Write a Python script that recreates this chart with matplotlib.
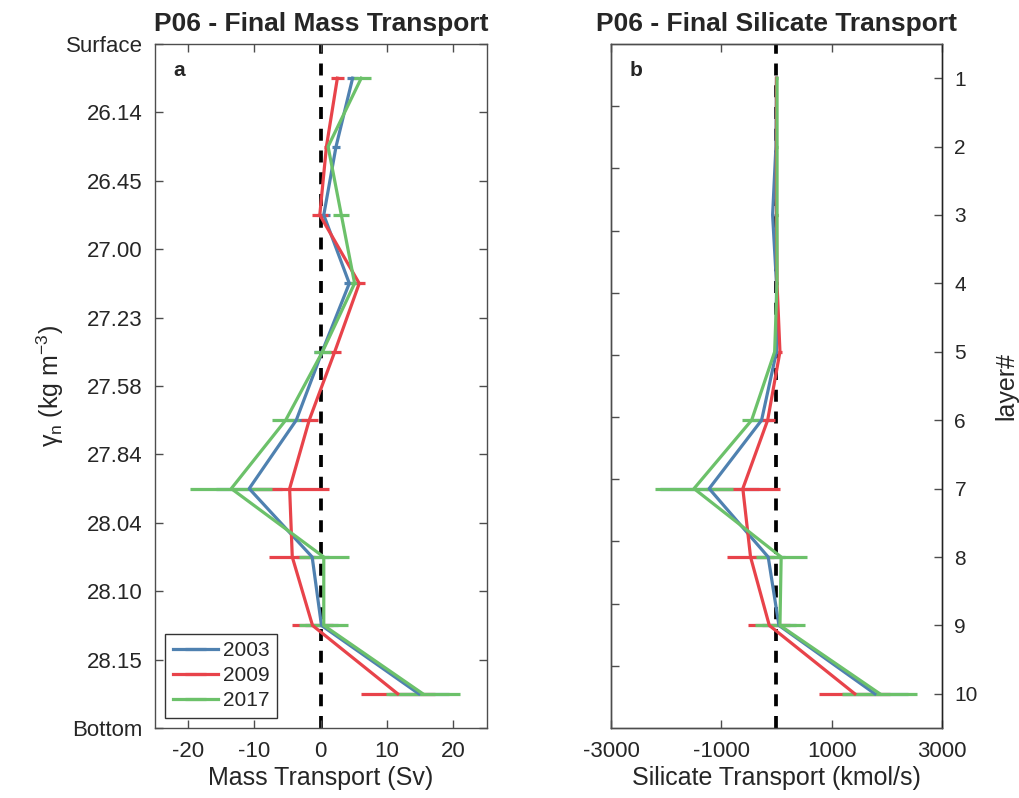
import matplotlib.pyplot as plt
import numpy as np

plt.rcParams['font.family'] = ['Liberation Sans', 'DejaVu Sans']
plt.rcParams['mathtext.fontset'] = 'custom'
plt.rcParams['mathtext.rm'] = 'Liberation Sans'
plt.rcParams['mathtext.it'] = 'Liberation Sans'
plt.rcParams['axes.unicode_minus'] = False

txt_col = '#262626'
box_col = '#4d4d4d'

layers = np.arange(1, 11)
years = ['2003', '2009', '2017']
colors = ['#4f81b0', '#e8434a', '#6cc16a']
density_labels = ['Surface', '26.14', '26.45', '27.00', '27.23', '27.58',
                  '27.84', '28.04', '28.10', '28.15', 'Bottom']

# mass transport (Sv) per layer
mass_2003 = [4.8, 2.3, 0.45, 4.3, 0.2, -3.7, -10.8, -1.3, 0.1, 14.8]
mass_2009 = [2.5, 0.85, -0.15, 5.8, 2.1, -1.75, -4.7, -4.3, -1.25, 11.6]
mass_2017 = [6.1, 1.1, 3.1, 5.1, 0.25, -5.3, -13.5, 0.45, 0.45, 15.4]
mass_err_2003 = [0.8, 0.6, 1.0, 0.8, 1.2, 1.6, 5.0, 2.5, 2.5, 4.5]
mass_err_2009 = [1.0, 0.3, 1.25, 0.8, 0.9, 1.3, 6.0, 3.5, 3.15, 5.6]
mass_err_2017 = [1.5, 0.2, 1.2, 0.7, 1.25, 2.0, 6.2, 3.75, 3.7, 5.6]

# silicate transport (kmol/s) per layer
sil_2003 = [0, -10, -70, 0, 0, -270, -1220, -150, 45, 1785]
sil_2009 = [0, 0, 0, 10, 63, -160, -610, -470, -130, 1420]
sil_2017 = [10, 10, 10, 10, -33, -450, -1495, 85, 63, 1875]
sil_err_2003 = [10, 10, 20, 20, 30, 200, 900, 300, 300, 600]
sil_err_2009 = [10, 10, 20, 20, 30, 135, 670, 430, 380, 645]
sil_err_2017 = [10, 10, 20, 20, 30, 180, 700, 465, 450, 680]

mass = [mass_2003, mass_2009, mass_2017]
mass_err = [mass_err_2003, mass_err_2009, mass_err_2017]
sil = [sil_2003, sil_2009, sil_2017]
sil_err = [sil_err_2003, sil_err_2009, sil_err_2017]

dash = (0, (3.2, 2.6))

fig = plt.figure(figsize=(10.2, 7.98), dpi=100)
ax1 = fig.add_axes([0.152, 0.0877, 0.325, 0.8572])
ax2 = fig.add_axes([0.599, 0.0877, 0.3245, 0.8572])
ax2r = ax2.twinx()


def style_box(ax):
    for s in ax.spines.values():
        s.set_color(box_col)
        s.set_linewidth(1.0)
    ax.tick_params(direction='in', length=6, width=1.0, color=box_col,
                   labelcolor=txt_col, labelsize=16)
    ax.tick_params(axis='x', pad=9)
    ax.tick_params(axis='y', pad=9)


# --- panel a
ax1.axvline(0, color='k', ls=dash, lw=2.7, zorder=1)
for vals, errs, c, yr in zip(mass, mass_err, colors, years):
    ax1.errorbar(vals, layers, xerr=errs, color=c, lw=2.3, elinewidth=2.3,
                 capsize=0, label=yr, zorder=2)
ax1.set_xlim(-25, 25)
ax1.set_ylim(10.5, 0.5)
ax1.set_xticks([-20, -10, 0, 10, 20])
ax1.set_yticks(np.arange(0.5, 11.0, 1.0))
ax1.set_yticklabels(density_labels)
style_box(ax1)
ax1.tick_params(top=True, right=True)
ax1.set_xlabel('Mass Transport (Sv)', fontsize=18, color=txt_col, labelpad=3)
ax1.set_ylabel(r'$\gamma_n$ (kg m$^{-3}$)', fontsize=18, color=txt_col, labelpad=0)
ax1.set_title('P06 - Final Mass Transport', fontsize=19, fontweight='bold',
              color=txt_col, pad=9)
ax1.text(0.055, 0.975, 'a', transform=ax1.transAxes, fontsize=15,
         fontweight='bold', va='top', ha='left', color=txt_col)
leg = ax1.legend(loc='lower left', fontsize=15, frameon=True, fancybox=False,
                 handlelength=2.15, borderaxespad=0.5, labelspacing=0.3,
                 handletextpad=0.25, borderpad=0.35)
leg.get_frame().set_edgecolor('k')
leg.get_frame().set_linewidth(1.0)
for t in leg.get_texts():
    t.set_color(txt_col)

# --- panel b: unlabeled ticks on the left, layer numbers on the right
ax2.set_xlim(-3000, 3000)
ax2.set_ylim(11, 0)
ax2.set_yticks(np.arange(1, 11))
ax2.set_xticks([-3000, -1000, 1000, 3000])
style_box(ax2)
ax2.tick_params(top=True, labelleft=False)
ax2.set_xlabel('Silicate Transport (kmol/s)', fontsize=18, color=txt_col, labelpad=3)
ax2.set_title('P06 - Final Silicate Transport', fontsize=19, fontweight='bold',
              color=txt_col, pad=9)

ax2r.axvline(0, color='k', ls=dash, lw=2.7, zorder=1)
for vals, errs, c, yr in zip(sil, sil_err, colors, years):
    ax2r.errorbar(vals, layers, xerr=errs, color=c, lw=2.3, elinewidth=2.3,
                  capsize=0, label=yr, zorder=2)
ax2r.set_ylim(10.5, 0.5)
ax2r.set_yticks(layers)
style_box(ax2r)
ax2r.tick_params(axis='y', labelsize=15)
ax2r.spines['right'].set_color('#222222')
ax2r.set_ylabel('layer#', fontsize=18, color=txt_col, labelpad=12)
ax2r.text(0.055, 0.975, 'b', transform=ax2r.transAxes, fontsize=15,
          fontweight='bold', va='top', ha='left', color=txt_col)

fig.savefig('out.png', dpi=100)
